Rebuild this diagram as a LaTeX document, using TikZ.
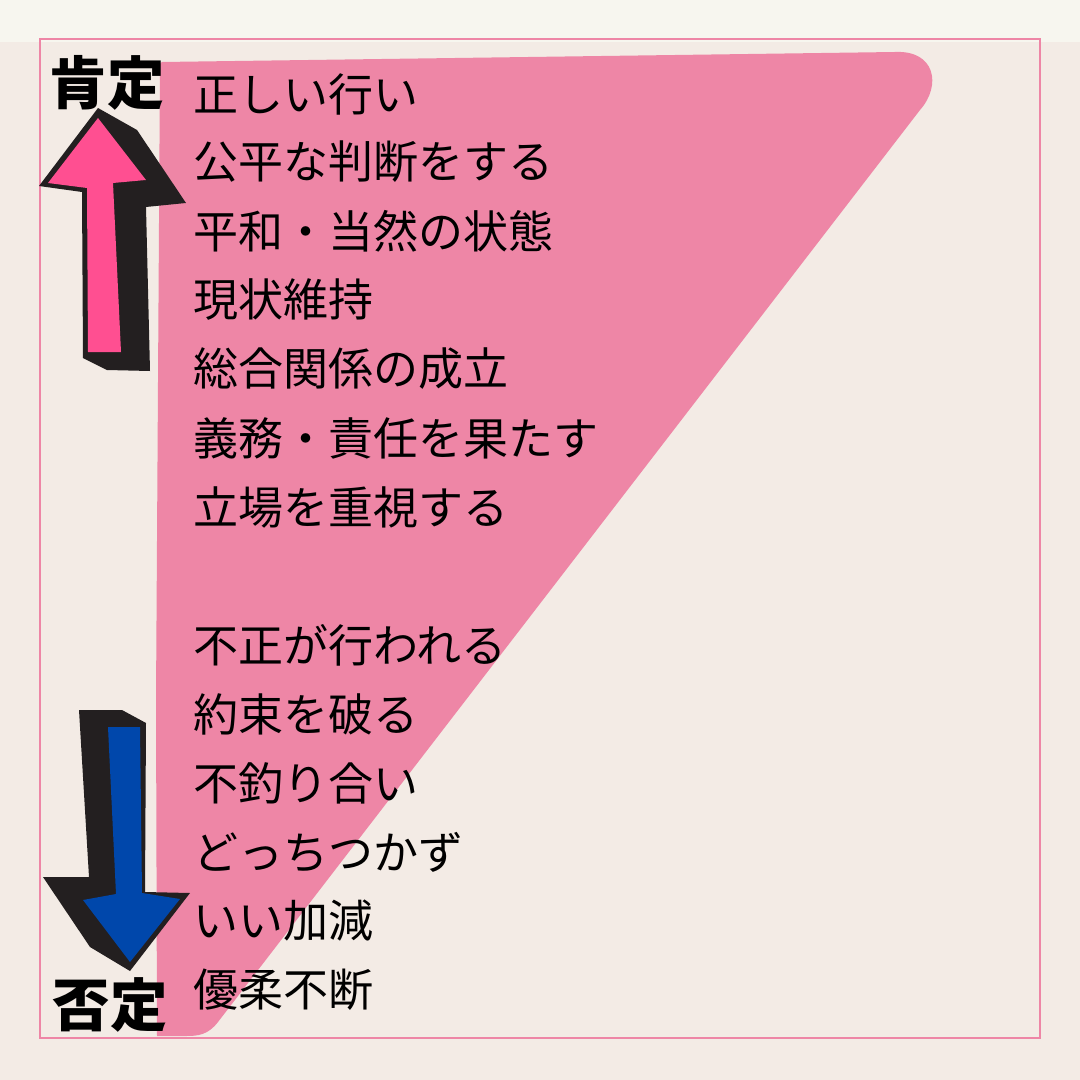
\documentclass[tikz,border=0pt]{standalone}
\usepackage{fontspec}
\newfontfamily\cjk{Noto Sans CJK JP}
\definecolor{paper}{RGB}{243,235,229}
\definecolor{paperTop}{RGB}{247,246,239}
\definecolor{rosePink}{RGB}{238,134,166}
\definecolor{arrowPink}{RGB}{255,79,145}
\definecolor{arrowBlue}{RGB}{0,71,171}
\definecolor{inkBlack}{RGB}{35,31,32}
\tikzset{
  item/.style={anchor=west, inner sep=0pt, font=\cjk\fontsize{33.75}{40}\selectfont, text=black},
  pole/.style={inner sep=0pt, font=\cjk\bfseries\fontsize{43}{48}\selectfont, text=black}
}
\begin{document}
\begin{tikzpicture}[x=0.75pt,y=0.75pt,yscale=-1,xscale=1]
    \useasboundingbox (0,0) rectangle (1080,1080);
    % Background
    \fill[paper] (0,0) rectangle (1080,1080);
    \fill[paperTop] (0,0) rectangle (1080,42);
    \draw[rosePink, line width=1.5pt] (40,39) rectangle (1040,1038);
    
    % Pink band
    \fill[rosePink] (162,62) -- (895,52) .. controls (935,50) and (942,85) .. (920,110) -- (218,1022) .. controls (208,1035) and (198,1036) .. (186,1036) -- (157,1036) -- (156,700) -- (160,64) -- cycle;
    
    % Up arrow
    \fill[inkBlack] (98,108) -- (137,130) -- (186,203) -- (146,207) -- (150,371) -- (107,370) -- (83,358) -- (82,192) -- (39,186) -- cycle;
    \fill[arrowPink] (98,118) -- (146,180) -- (113,183) -- (121,352) -- (88,352) -- (87,188) -- (48,183) -- cycle;
    
    % Down arrow
    \fill[inkBlack] (79,710) -- (122,710) -- (146,723) -- (145,892) -- (190,893) -- (130,971) -- (90,947) -- (43,877) -- (89,877) -- cycle;
    \fill[arrowBlue] (108,727) -- (140,727) -- (142,893) -- (180,899) -- (130,962) -- (83,900) -- (116,894) -- cycle;
    
    % Pole labels
    \node[pole] (plus) at (107,83) {肯定};
    \node[pole] (minus) at (110,1005) {否定};
    
    % Text Node
    \node[item] (t1) at (193,94) {正しい行い};
    % Text Node
    \node[item] (t2) at (193,162) {公平な判断をする};
    % Text Node
    \node[item] (t3) at (193,231) {平和・当然の状態};
    % Text Node
    \node[item] (t4) at (193,300) {現状維持};
    % Text Node
    \node[item] (t5) at (193,369) {総合関係の成立};
    % Text Node
    \node[item] (t6) at (193,438) {義務・責任を果たす};
    % Text Node
    \node[item] (t7) at (193,507) {立場を重視する};
    % Text Node
    \node[item] (t8) at (193,645) {不正が行われる};
    % Text Node
    \node[item] (t9) at (193,714) {約束を破る};
    % Text Node
    \node[item] (t10) at (193,783) {不釣り合い};
    % Text Node
    \node[item] (t11) at (193,852) {どっちつかず};
    % Text Node
    \node[item] (t12) at (193,921) {いい加減};
    % Text Node
    \node[item] (t13) at (193,990) {優柔不断};
    
\end{tikzpicture}
\end{document}
